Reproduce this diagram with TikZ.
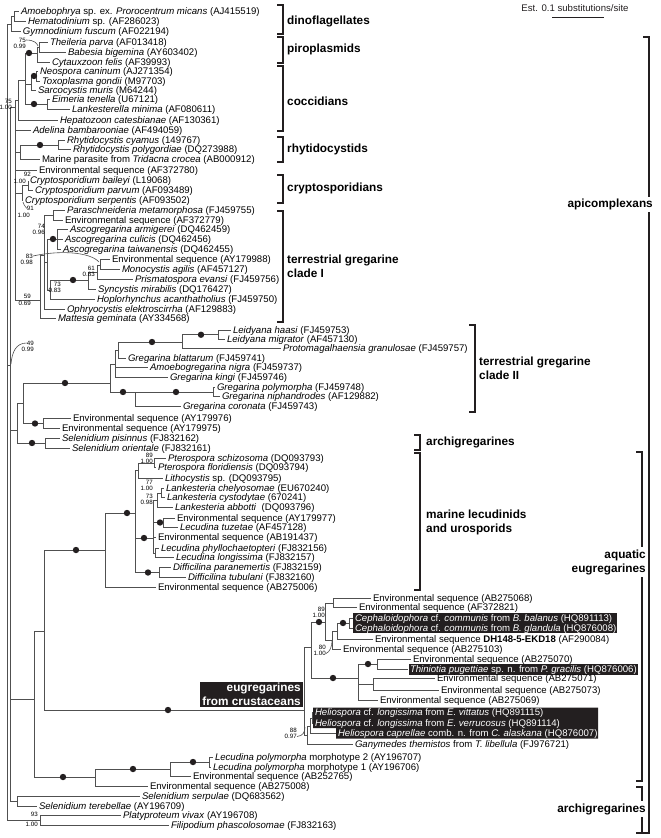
\documentclass[tikz,border=0pt]{standalone}
\usepackage{fontspec}
\setmainfont{Liberation Sans}
\definecolor{brc}{HTML}{505050}
\definecolor{ink}{HTML}{231F20}
\newcommand\lf{\fontsize{9.6}{11}\selectfont}
\newcommand\gf{\fontsize{11.8}{14}\selectfont\bfseries}
\newcommand\svf{\fontsize{6.2}{7}\selectfont}
\tikzset{
 leaf/.style={anchor=west, inner xsep=2pt, inner ysep=0pt, outer sep=0pt, text height=7pt, text depth=0.3pt, font=\lf},
 leafw/.style={leaf, text=white},
 br/.style={draw=brc, line width=0.8pt},
 brk/.style={draw=ink, line width=1.4pt},
 grp/.style={anchor=west, font=\gf, inner sep=0pt, align=left},
 grpr/.style={anchor=east, font=\gf, inner xsep=1pt, inner ysep=2pt, align=right, fill=white},
 sv/.style={anchor=east, font=\svf, inner sep=0pt},
 cur/.style={draw=brc, line width=0.6pt}
}
\newcommand\leaf[4]{\node[leaf] (#1) at (#2,#3) {#4};}
\newcommand\leafw[4]{\node[leafw] (#1) at (#2,#3) {#4};}
\newcommand\kids[2]{\foreach \kid in {#2}{\draw[br] (#1) |- (\kid);}}
\newcommand\dt[2]{\fill[ink] (#1,#2) circle (3.2pt);}
\newcommand\sv[5]{\node[sv] (#1a) at (#2,#3) {#4}; \node[sv] (#1b) at (#2,#3+6.5) {#5};}
\begin{document}
\begin{tikzpicture}[x=1pt,y=-1pt]
\useasboundingbox (0,0) rectangle (661,838);
% black boxes
\fill[ink] (353,613) rectangle (617,633);
\fill[ink] (409,664) rectangle (638,674.5);
\fill[ink] (313,707.5) -- (598,707.5) -- (598,738.5) -- (336,738.5) -- (336,728) -- (313,728) -- cycle;
% leaves
\leaf{L1}{19}{11}{\textit{Amoebophrya} sp. ex. \textit{Prorocentrum micans} (AJ415519)}
\leaf{L2}{26}{21.5}{\textit{Hematodinium} sp. (AF286023)}
\leaf{L3}{21}{31.5}{\textit{Gymnodinium fuscum} (AF022194)}
\leaf{L4}{48}{42.5}{\textit{Theileria parva} (AF013418)}
\leaf{L5}{66}{52}{\textit{Babesia bigemina} (AY603402)}
\leaf{L6}{50}{62}{\textit{Cytauxzoon felis} (AF39993)}
\leaf{L7}{38}{71}{\textit{Neospora caninum} (AJ271354)}
\leaf{L8}{40}{81}{\textit{Toxoplasma gondii} (M97703)}
\leaf{L9}{36}{90.5}{\textit{Sarcocystis muris} (M64244)}
\leaf{L10}{50}{99.5}{\textit{Eimeria tenella} (U67121)}
\leaf{L11}{70}{109}{\textit{Lankesterella minima} (AF080611)}
\leaf{L12}{58}{120}{\textit{Hepatozoon catesbianae} (AF130361)}
\leaf{L13}{31}{130}{\textit{Adelina bambarooniae} (AF494059)}
\leaf{L14}{65}{140}{\textit{Rhytidocystis cyamus} (149767)}
\leaf{L15}{71}{149.5}{\textit{Rhytidocystis polygordiae} (DQ273988)}
\leaf{L16}{40}{159.5}{Marine parasite from \textit{Tridacna crocea} (AB000912)}
\leaf{L17}{37}{170}{Environmental sequence (AF372780)}
\leaf{L18}{28}{180.5}{\textit{Cryptosporidium baileyi} (L19068)}
\leaf{L19}{33}{190.5}{\textit{Cryptosporidium parvum} (AF093489)}
\leaf{L20}{23}{200.5}{\textit{Cryptosporidium serpentis} (AF093502)}
\leaf{L21}{65}{210}{\textit{Paraschneideria metamorphosa} (FJ459755)}
\leaf{L22}{63}{220}{Environmental sequence (AF372779)}
\leaf{L23}{68}{229.5}{\textit{Ascogregarina armigerei} (DQ462459)}
\leaf{L24}{63}{239.5}{\textit{Ascogregarina culicis} (DQ462456)}
\leaf{L25}{61}{249.5}{\textit{Ascogregarina taiwanensis} (DQ462455)}
\leaf{L26}{110}{259.5}{Environmental sequence (AY179988)}
\leaf{L27}{120}{269.5}{\textit{Monocystis agilis} (AF457127)}
\leaf{L28}{133}{279.5}{\textit{Prismatospora evansi} (FJ459756)}
\leaf{L29}{96}{289.5}{\textit{Syncystis mirabilis} (DQ176427)}
\leaf{L30}{95}{299.5}{\textit{Hoplorhynchus acanthatholius} (FJ459750)}
\leaf{L31}{65}{309}{\textit{Ophryocystis elektroscirrha} (AF129883)}
\leaf{L32}{56}{318.5}{\textit{Mattesia geminata} (AY334568)}
\leaf{L33}{231}{330}{\textit{Leidyana haasi} (FJ459753)}
\leaf{L34}{225}{339.5}{\textit{Leidyana migrator} (AF457130)}
\leaf{L35}{281}{348.5}{\textit{Protomagalhaensia granulosae} (FJ459757)}
\leaf{L36}{126}{358}{\textit{Gregarina blattarum} (FJ459741)}
\leaf{L37}{148}{367.5}{\textit{Amoebogregarina nigra} (FJ459737)}
\leaf{L38}{168}{377}{\textit{Gregarina kingi} (FJ459746)}
\leaf{L39}{215}{387}{\textit{Gregarina polymorpha} (FJ459748)}
\leaf{L40}{220}{396.5}{\textit{Gregarina niphandrodes} (AF129882)}
\leaf{L41}{181}{406}{\textit{Gregarina coronata} (FJ459743)}
\leaf{L42}{71}{418.5}{Environmental sequence (AY179976)}
\leaf{L43}{60}{428.5}{Environmental sequence (AY179975)}
\leaf{L44}{60}{438.5}{\textit{Selenidium pisinnus} (FJ832162)}
\leaf{L45}{70}{448}{\textit{Selenidium orientale} (FJ832161)}
\leaf{L46}{166}{458}{\textit{Pterospora schizosoma} (DQ093793)}
\leaf{L47}{156}{467.5}{\textit{Pterospora floridiensis} (DQ093794)}
\leaf{L48}{163}{478}{\textit{Lithocystis} sp. (DQ093795)}
\leaf{L49}{164}{488}{\textit{Lankesteria chelyosomae} (EU670240)}
\leaf{L50}{165}{497.5}{\textit{Lankesteria cystodytae} (670241)}
\leaf{L51}{173}{507.5}{\textit{Lankesteria abbotti}\ \ (DQ093796)}
\leaf{L52}{175}{518}{Environmental sequence (AY179977)}
\leaf{L53}{178}{527}{\textit{Lecudina tuzetae} (AF457128)}
\leaf{L54}{156}{537.5}{Environmental sequence (AB191437)}
\leaf{L55}{159}{548}{\textit{Lecudina phyllochaetopteri} (FJ832156)}
\leaf{L56}{174}{557.5}{\textit{Lecudina longissima} (FJ832157)}
\leaf{L57}{171}{567.5}{\textit{Difficilina paranemertis} (FJ832159)}
\leaf{L58}{186}{577.5}{\textit{Difficilina tubulani} (FJ832160)}
\leaf{L59}{156}{587.5}{Environmental sequence (AB275006)}
\leaf{L60}{371}{598}{Environmental sequence (AB275068)}
\leaf{L61}{357}{607.5}{Environmental sequence (AF372821)}
\leafw{L62}{353}{618}{\textit{Cephaloidophora} cf. \textit{communis} from \textit{B. balanus} (HQ891113)}
\leafw{L63}{353}{628}{\textit{Cephaloidophora} cf. \textit{communis} from \textit{B. glandula} (HQ876008)}
\leaf{L64}{373}{639}{Environmental sequence \textbf{DH148-5-EKD18} (AF290084)}
\leaf{L65}{341}{649}{Environmental sequence (AB275103)}
\leaf{L66}{411}{659}{Environmental sequence (AB275070)}
\leafw{L67}{408}{669}{\textit{Thiniotia pugettiae} sp. n. from \textit{P. gracilis} (HQ876006)}
\leaf{L68}{435}{678.5}{Environmental sequence (AB275071)}
\leaf{L69}{439}{690.5}{Environmental sequence (AB275073)}
\leaf{L70}{378}{700.5}{Environmental sequence (AB275069)}
\leafw{L71}{313}{712.5}{\textit{Heliospora} cf. \textit{longissima} from \textit{E. vittatus} (HQ891115)}
\leafw{L72}{313}{723}{\textit{Heliospora} cf. \textit{longissima} from \textit{E. verrucosus} (HQ891114)}
\leafw{L73}{336}{733.5}{\textit{Heliospora caprellae} comb. n. from \textit{C. alaskana} (HQ876007)}
\leaf{L74}{353}{744}{\textit{Ganymedes themistos} from \textit{T. libellula} (FJ976721)}
\leaf{L75}{213}{757.5}{\textit{Lecudina polymorpha} morphotype 2 (AY196707)}
\leaf{L76}{211}{767}{\textit{Lecudina polymorpha} morphotype 1 (AY196706)}
\leaf{L77}{191}{776.5}{Environmental sequence (AB252765)}
\leaf{L78}{148}{786.5}{Environmental sequence (AB275008)}
\leaf{L79}{140}{796}{\textit{Selenidium serpulae} (DQ683562)}
\leaf{L80}{37}{806}{\textit{Selenidium terebellae} (AY196709)}
\leaf{L81}{121}{815.5}{\textit{Platyproteum vivax} (AY196708)}
\leaf{L82}{169}{825.5}{\textit{Filipodium phascolosomae} (FJ832163)}
% internal nodes
\coordinate (R0) at (7,24);
\coordinate (D0) at (11,24); \coordinate (D1) at (14,16);
\coordinate (A) at (10,365);
\coordinate (Up) at (15,107);
\coordinate (Cocc2) at (18,100);
\coordinate (Cocc1) at (25,80);
\coordinate (Pi2) at (37,53);
\coordinate (Pi) at (39,47);
\coordinate (NTS) at (31,84);
\coordinate (NT) at (36,76);
\coordinate (EL) at (47,104);
\coordinate (Rhy) at (20,152);
\coordinate (RC) at (58,145);
\coordinate (Cr) at (22,193);
\coordinate (CP2) at (28,185.5);
\coordinate (CI) at (40,300);
\coordinate (CI1) at (44,255);
\coordinate (Ps) at (53,215);
\coordinate (As2) at (47,262);
\coordinate (As) at (57,239);
\coordinate (Ho) at (50,290);
\coordinate (Sy) at (88,280);
\coordinate (Mo2) at (97,272);
\coordinate (Mo) at (100,265);
\coordinate (W) at (17,430);
\coordinate (V) at (23,403);
\coordinate (CII) at (110,383);
\coordinate (U) at (115,364);
\coordinate (U1) at (118,350);
\coordinate (Lg) at (182,342);
\coordinate (Lh) at (218,334.75);
\coordinate (G) at (135,392);
\coordinate (GP) at (213,392);
\coordinate (EP) at (43,423.5);
\coordinate (SP) at (45,443);
\coordinate (E34) at (34,699);
\coordinate (E44) at (44,631);
\coordinate (ML) at (105,550);
\coordinate (M) at (135,513);
\coordinate (Q) at (138,470);
\coordinate (Pt) at (154,463);
\coordinate (R) at (153,538);
\coordinate (Lk2) at (157,500);
\coordinate (Lk) at (161,493);
\coordinate (TZ) at (163,522.5);
\coordinate (LL) at (155,553);
\coordinate (Dif) at (159,572.5);
\coordinate (CR) at (304,710);
\coordinate (CR1) at (311,647);
\coordinate (G1) at (325,622);
\coordinate (Na) at (333,603);
\coordinate (Nb) at (332,640);
\coordinate (Nc) at (337,631);
\coordinate (Ce) at (349,623);
\coordinate (T) at (358,678);
\coordinate (T1) at (377,664);
\coordinate (T2) at (373,684.5);
\coordinate (CH) at (307,735);
\coordinate (Hc) at (310,726);
\coordinate (Hv) at (312,718);
\coordinate (LP) at (95,777);
\coordinate (LP2) at (170,769);
\coordinate (LP3) at (209,762);
\coordinate (Ser) at (17,801);
\coordinate (Pl) at (40,820);
% branches
\kids{R0}{D0,A,Pl}
\kids{D0}{D1,L3}
\kids{D1}{L1,L2}
\kids{A}{Up,W,E34,Ser}
\kids{Up}{Cocc2,L13,Rhy,L17,Cr,CI}
\kids{Cocc2}{Cocc1,L12}
\kids{Cocc1}{Pi2,NTS,EL}
\kids{Pi2}{Pi,L6}
\kids{Pi}{L4,L5}
\kids{NTS}{NT,L9}
\kids{NT}{L7,L8}
\kids{EL}{L10,L11}
\kids{Rhy}{RC,L16}
\kids{RC}{L14,L15}
\kids{Cr}{CP2,L20}
\kids{CP2}{L18,L19}
\kids{CI}{CI1,L32}
\kids{CI1}{Ps,As2,L31}
\kids{Ps}{L21,L22}
\kids{As2}{As,Ho}
\kids{As}{L23,L24,L25}
\kids{Ho}{Sy,L30}
\kids{Sy}{Mo2,L29}
\kids{Mo2}{Mo,L28}
\kids{Mo}{L26,L27}
\kids{W}{V,SP}
\kids{V}{CII,EP}
\kids{EP}{L42,L43}
\kids{SP}{L44,L45}
\kids{CII}{U,G}
\kids{U}{U1,L37,L38}
\kids{U1}{Lg,L36}
\kids{Lg}{Lh,L35}
\kids{Lh}{L33,L34}
\kids{G}{GP,L41}
\kids{GP}{L39,L40}
\kids{E34}{E44,LP}
\kids{E44}{ML,CR}
\kids{ML}{M,L59}
\kids{M}{Q,R,Dif}
\kids{Q}{Pt,L48}
\kids{Pt}{L46,L47}
\kids{R}{Lk2,TZ,L54,LL}
\kids{Lk2}{Lk,L51}
\kids{Lk}{L49,L50}
\kids{TZ}{L52,L53}
\kids{LL}{L55,L56}
\kids{Dif}{L57,L58}
\kids{CR}{CR1,CH}
\kids{CR1}{G1,T}
\kids{G1}{Na,Nb}
\kids{Na}{L60,L61}
\kids{Nb}{Nc,L65}
\kids{Nc}{Ce,L64}
\kids{Ce}{L62,L63}
\kids{T}{T1,T2,L70}
\kids{T1}{L66,L67}
\kids{T2}{L68,L69}
\kids{CH}{Hc,L74}
\kids{Hc}{Hv,L73}
\kids{Hv}{L71,L72}
\kids{LP}{LP2,L78}
\kids{LP2}{LP3,L77}
\kids{LP3}{L75,L76}
\kids{Ser}{L79,L80}
\kids{Pl}{L81,L82}
% dots
\dt{29}{53} \dt{34}{76} \dt{34}{104} \dt{40}{145} \dt{53}{239} \dt{73}{280}
\dt{65}{383} \dt{35}{423.5} \dt{32}{443} \dt{152}{342} \dt{201}{334.75}
\dt{123}{392} \dt{176}{392} \dt{63}{777} \dt{133}{769} \dt{193}{762}
\dt{76}{550} \dt{168}{710} \dt{127}{513} \dt{144}{538} \dt{148}{572.5}
\dt{160}{522.5} \dt{319}{622} \dt{333}{678} \dt{343}{623} \dt{368}{664}
% support values
\sv{s1}{26}{40}{75}{0.99}
\sv{s2}{12}{101}{75}{1.00}
\node[sv] (s3a) at (31,174.5) {92};
\node[sv] (s3b) at (26,181) {1.00};
\node[sv] (s4a) at (34,208.5) {91};
\node[sv] (s4b) at (30,215) {1.00};
\sv{s5}{45}{226}{74}{0.96}
\sv{s6}{33}{256}{83}{0.98}
\sv{s7}{95}{268}{61}{0.83}
\sv{s8}{61}{284}{73}{0.83}
\sv{s9}{31}{296.5}{59}{0.69}
\sv{s10}{34}{343}{49}{0.99}
\sv{s11}{153}{455}{89}{1.00}
\sv{s12}{153}{482}{77}{1.00}
\sv{s13}{153}{496}{73}{0.98}
\sv{s14}{325}{609}{89}{1.00}
\sv{s15}{326}{647}{80}{1.00}
\sv{s16}{297}{730}{88}{0.97}
\node[sv] (s17a) at (38,814) {93};
\node[sv] (s17b) at (38,824.5) {1.00};
\draw[cur] (s1a.east) .. controls (34,40) and (37,43) .. (38,46);
\draw[cur] (s4a.west) .. controls (27,208) and (24,206) .. (23,202);
\draw[cur] (s6a.east) .. controls (60,250) and (90,252) .. (99,262);
\draw[cur] (s10a.west) .. controls (16,343) and (12,352) .. (11,364);
\draw[cur] (s15b.east) .. controls (330,652) and (332,646) .. (332,641);
\draw[cur] (s16b.east) .. controls (303,736) and (305,732) .. (305,727);
% brackets
\draw[brk] (277,5)--(283,5)--(283,34)--(277,34);
\draw[brk] (277,37)--(283,37)--(283,63)--(277,63);
\draw[brk] (277,66)--(283,66)--(283,131)--(277,131);
\draw[brk] (277,137)--(283,137)--(283,162)--(277,162);
\draw[brk] (277,175)--(283,175)--(283,203)--(277,203);
\draw[brk] (277,211)--(283,211)--(283,322)--(277,322);
\draw[brk] (469,325)--(475,325)--(475,412)--(469,412);
\draw[brk] (414,435)--(420,435)--(420,450)--(414,450);
\draw[brk] (414,453)--(420,453)--(420,590)--(414,590);
\draw[brk] (636,452)--(642,452)--(642,781)--(636,781);
\draw[brk] (636,787)--(642,787)--(642,833)--(636,833);
\draw[brk] (643,37)--(649,37)--(649,833)--(643,833);
% group labels
\node[grp] (gDino) at (287,21) {dinoflagellates};
\node[grp] (gPiro) at (287,49) {piroplasmids};
\node[grp] (gCocc) at (287,101) {coccidians};
\node[grp] (gRhy) at (287,149) {rhytidocystids};
\node[grp] (gCry) at (287,188) {cryptosporidians};
\node[grp] (gTI) at (287,266) {terrestrial gregarine\\clade I};
\node[grp] (gTII) at (479,368) {terrestrial gregarine\\clade II};
\node[grp] (gArc1) at (426,442) {archigregarines};
\node[grp] (gMar) at (426,522) {marine lecudinids\\and urosporids};
\node[grpr] (gAq) at (647,562) {aquatic\\eugregarines};
\node[grpr] (gApi) at (654,204) {apicomplexans};
\node[grpr] (gArc2) at (647,809) {archigregarines};
\node[anchor=south east, fill=ink, text=white, font=\gf, align=right, inner xsep=2pt, inner ysep=1pt] (gEu) at (303,707) {eugregarines\\from crustaceans};
% scale bar
\node[font=\lf, text=ink] (sc) at (575,8) {Est. 0.1 substitutions/site};
\draw[draw=ink, line width=0.8pt] (552,17) -- (604,17);
\end{tikzpicture}
\end{document}
